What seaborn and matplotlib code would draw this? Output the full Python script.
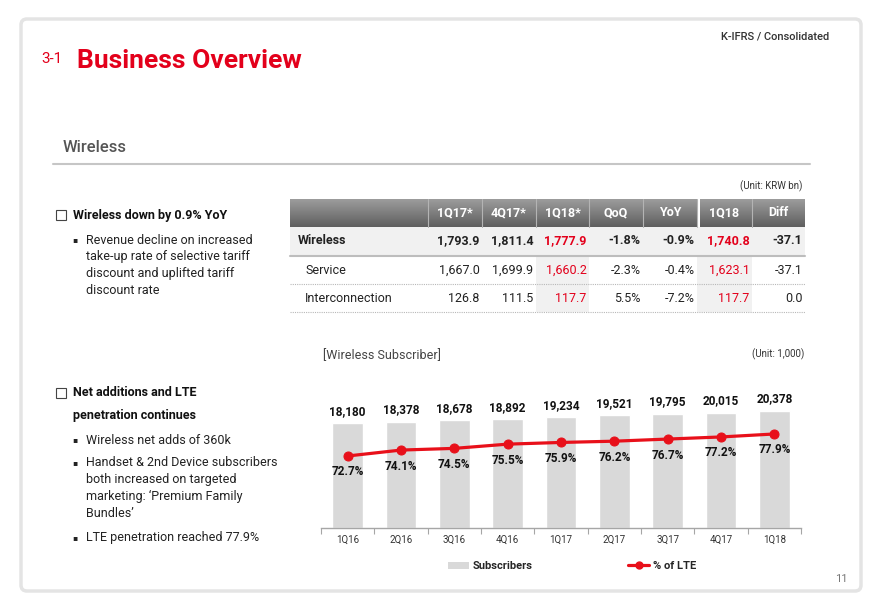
import matplotlib
matplotlib.use("Agg")
import matplotlib.pyplot as plt
from matplotlib.patches import Rectangle, FancyBboxPatch, Patch
from matplotlib.lines import Line2D
from matplotlib.colors import LinearSegmentedColormap
import numpy as np
import pandas as pd
import seaborn as sns

# ---- data ----
quarters = ["1Q16", "2Q16", "3Q16", "4Q16", "1Q17", "2Q17", "3Q17", "4Q17", "1Q18"]
subscribers = [18180, 18378, 18678, 18892, 19234, 19521, 19795, 20015, 20378]
lte_share = [72.7, 74.1, 74.5, 75.5, 75.9, 76.2, 76.7, 77.2, 77.9]

table_cols = ["1Q17*", "4Q17*", "1Q18*", "QoQ", "YoY", "1Q18", "Diff"]
table_rows = ["Wireless", "Service", "Interconnection"]
wireless_rev = [1793.9, 1811.4, 1777.9, -1.8, -0.9, 1740.8, -37.1]
service_rev = [1667.0, 1699.9, 1660.2, -2.3, -0.4, 1623.1, -37.1]
interconn_rev = [126.8, 111.5, 117.7, 5.5, -7.2, 117.7, 0.0]

RED = "#e3001b"
BAR = "#d9d9d9"
DARK = "#222222"

sns.set_theme(style="white")
plt.rcParams["font.family"] = ["Roboto", "DejaVu Sans"]

W, H = 880, 609
fig = plt.figure(figsize=(8.8, 6.09), dpi=100)

# full-page axes in pixel coordinates for the slide furniture
bg = fig.add_axes([0, 0, 1, 1])
bg.axis("off")

# page frame
bg.add_patch(FancyBboxPatch((21, 19), 840, 572, boxstyle="round,pad=0,rounding_size=6",
                            fc="none", ec="#e4e4e4", lw=2.5))
bg.text(848, 579, "11", ha="right", va="center", fontsize=8, color="#777777")

# header texts
bg.text(829, 36, "K-IFRS / Consolidated", ha="right", va="center", fontsize=8,
        color="#333333", fontweight="medium")
bg.text(41, 59, "3-1", ha="left", va="center", fontsize=11, color=RED)
bg.text(77, 61, "Business Overview", ha="left", va="center", fontsize=19,
        color=RED, fontweight="bold")
bg.text(63, 147, "Wireless", ha="left", va="center", fontsize=12, color="#555555",
        fontweight="medium")
bg.plot([53, 810], [164, 164], color="#c6c6c6", lw=1.5)

# left commentary
def checkbox(y, lines):
    bg.add_patch(Rectangle((56, y - 5), 10, 10, fc="none", ec="#444444", lw=0.8))
    for k, line in enumerate(lines):
        bg.text(73, y + k * 22, line, ha="left", va="center", fontsize=9,
                fontweight="bold", color="#111111")

def bullet(y, lines):
    bg.text(72, y, "▪", ha="left", va="center", fontsize=5.5, color="#222222")
    for k, line in enumerate(lines):
        bg.text(86, y + k * 16.7, line, ha="left", va="center", fontsize=9, color=DARK)

checkbox(215, ["Wireless down by 0.9% YoY"])
bullet(240, ["Revenue decline on increased", "take-up rate of selective tariff",
             "discount and uplifted tariff", "discount rate"])
checkbox(393, ["Net additions and LTE", "penetration continues"])
bullet(440, ["Wireless net adds of 360k"])
bullet(463, ["Handset & 2nd Device subscribers", "both increased on targeted",
             "marketing: ‘Premium Family", "Bundles’"])
bullet(538, ["LTE penetration reached 77.9%"])

# ---- revenue table ----
col_edges = [428, 482, 536, 589, 643, 697, 752, 805]
tx0, tx1 = 290, 805
bg.text(803, 186, "(Unit: KRW bn)", ha="right", va="center", fontsize=7, color="#333333")

grad = np.linspace(0, 1, 50).reshape(-1, 1)
cmap = LinearSegmentedColormap.from_list("hdr", ["#9c9c9c", "#5f5f5f"])
bg.imshow(grad, extent=[tx0, tx1, 227, 199], cmap=cmap, aspect="auto", origin="upper")
for xe in col_edges[:-1]:
    bg.plot([xe, xe], [199, 227], color="#b4b4b4", lw=0.8)
bg.add_patch(Rectangle((697, 198), 2.5, 30, fc="white", ec="none"))

bg.add_patch(Rectangle((tx0, 227), tx1 - tx0, 28, fc="#f1f1f1", ec="none"))
bg.plot([tx0, tx1], [255.5, 255.5], color="#bdbdbd", lw=1.5)
for ci in (2, 5):
    bg.add_patch(Rectangle((col_edges[ci], 256.5), col_edges[ci + 1] - col_edges[ci], 55.5,
                           fc="#f1f1f1", ec="none"))
for yl in (284, 312):
    bg.plot([tx0, tx1], [yl, yl], color="#b8b8b8", lw=0.8, ls=(0, (1, 1)))

for ci, name in enumerate(table_cols):
    xc = (col_edges[ci] + col_edges[ci + 1]) / 2
    bg.text(xc, 213, name, ha="center", va="center", fontsize=9, color="white",
            fontweight="bold")

row_y = [241, 270, 298]
for ri, (label, vals) in enumerate(zip(table_rows, [wireless_rev, service_rev, interconn_rev])):
    bold = ri == 0
    bg.text(298 if bold else 305, row_y[ri], label, ha="left", va="center", fontsize=9,
            color=DARK, fontweight="bold" if bold else "normal")
    for ci, v in enumerate(vals):
        s = f"{v:.1f}%" if ci in (3, 4) else f"{v:,.1f}"
        bg.text(col_edges[ci + 1] - 2.5, row_y[ri], s, ha="right", va="center", fontsize=9,
                color=RED if ci in (2, 5) else DARK,
                fontweight="bold" if bold else "normal")

# ---- subscriber chart ----
bg.text(323, 356, "[Wireless Subscriber]", ha="left", va="center", fontsize=9,
        color="#444444")
bg.text(804, 354, "(Unit: 1,000)", ha="right", va="center", fontsize=7, color="#333333")

bg.set_xlim(0, W)
bg.set_ylim(H, 0)

df = pd.DataFrame({"quarter": quarters, "subs": subscribers, "lte": lte_share})

ax = fig.add_axes([321 / W, 1 - 528 / H, 480 / W, 148 / H])
sns.barplot(data=df, x="quarter", y="subs", color=BAR, saturation=1, width=0.58, ax=ax)
ax.set_ylim(0, 25680)
ax.set_xlim(-0.5, len(quarters) - 0.5)
for i, s in enumerate(subscribers):
    ax.annotate(f"{s:,}", (i, s), xytext=(0, 12), textcoords="offset pixels",
                ha="center", va="center", fontsize=8.5, fontweight="bold", color="#111111")

ax2 = ax.twinx()
sns.lineplot(data=df, x="quarter", y="lte", color="#e8101a", marker="o", markersize=6.5,
             markeredgecolor="#e8101a", linewidth=2.3, ax=ax2)
ax2.set_ylim(55.68, 90.66)
for i, p in enumerate(lte_share):
    ax2.annotate(f"{p:.1f}%", (i, p), xytext=(0, -16), textcoords="offset pixels",
                 ha="center", va="center", fontsize=8.5, fontweight="bold", color="#111111")

for a in (ax, ax2):
    a.set_xlabel("")
    a.set_ylabel("")
    a.set_yticks([])
    for side in ("left", "right", "top"):
        a.spines[side].set_visible(False)
    a.patch.set_alpha(0)
ax2.spines["bottom"].set_visible(False)
ax.spines["bottom"].set_color("#a6a6a6")
ax.spines["bottom"].set_linewidth(1)
ax.set_xticks(range(len(quarters)))
ax.set_xticklabels(quarters)
ax.set_xticks(np.arange(-0.5, len(quarters)), minor=True)
ax.tick_params(axis="x", which="major", length=0, pad=5, labelsize=7, labelcolor="#333333")
ax.tick_params(axis="x", which="minor", length=4, width=0.8, color="#a6a6a6", bottom=True)
ax2.tick_params(axis="x", which="both", length=0, labelbottom=False)

handles = [Patch(fc=BAR, ec="none"),
           Line2D([], [], color="#e8101a", marker="o", markersize=5, lw=2.3)]
fig.legend(handles, ["Subscribers", "% of LTE"], loc="center",
           bbox_to_anchor=(572 / W, 1 - 566 / H), ncol=2, frameon=False,
           prop={"size": 8, "weight": "bold"}, handlelength=1.9, handleheight=0.6,
           handletextpad=0.3, columnspacing=8.6, borderpad=0)

fig.savefig("out.png", dpi=100)
